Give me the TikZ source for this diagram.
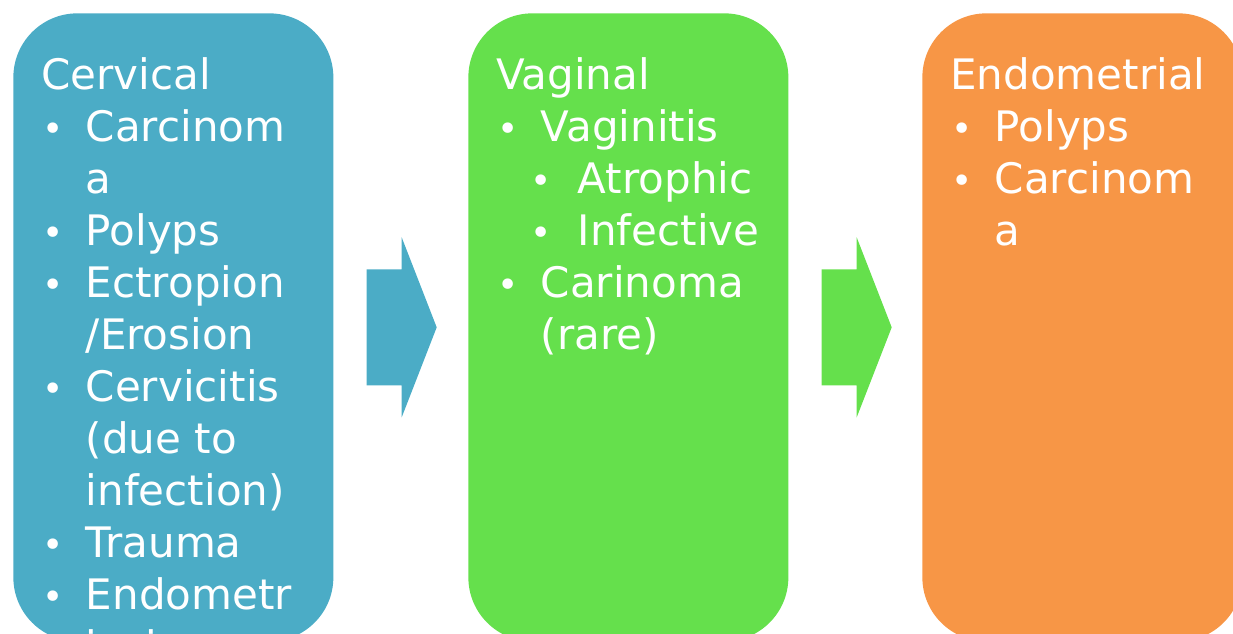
\documentclass[tikz,border=0pt]{standalone}
\usepackage{fontspec}
\setmainfont{DejaVu Sans}
\definecolor{cblue}{HTML}{4BACC6}
\definecolor{cgreen}{HTML}{65E04C}
\definecolor{corange}{HTML}{F79646}
\newlength{\pxu}
\setlength{\pxu}{0.02cm}
\tikzset{
  every picture/.style={x=0.02cm, y=-0.02cm},
  box/.style={fill=#1, rounded corners=64\pxu, minimum width=320\pxu, minimum height=628\pxu, inner sep=0pt, anchor=north west},
  box/.default=cblue,
  items/.style={text=white, align=left, inner sep=0pt, anchor=north west, font=\fontsize{42\pxu}{52\pxu}\selectfont},
}

\begin{document}
\begin{tikzpicture}
  \newcommand{\bdot}{\raisebox{0\pxu}{\fontsize{36\pxu}{36\pxu}\selectfont •}}
  \newcommand{\itm}{\makebox[44.5\pxu][l]{\hspace*{1\pxu}\bdot}}
  \newcommand{\cnt}{\makebox[44.5\pxu]{}}
  \newcommand{\sitm}{\cnt\makebox[37\pxu][l]{\hspace*{-10\pxu}\bdot}}
  \newcommand{\flow}[2]{\fill[#2] ([xshift=33\pxu]#1.east) ++(0,-58) -- ++(35,0) -- ++(0,-32) -- ++(35,90) -- ++(-35,90) -- ++(0,-32) -- ++(-35,0) -- cycle;}
  \useasboundingbox (0,0) rectangle (1233,634);
  \clip (0,0) rectangle (1233,634);

  % cervical
  \node[box=cblue] (cerv) at (13,13) {};
  \node[items] (cervtxt) at (41,57) {Cervical\\\itm Carcinom\\\cnt a\\\itm Polyps\\\itm Ectropion\\\cnt /Erosion\\\itm Cervicitis\\\cnt (due to\\\cnt infection)\\\itm Trauma\\\itm Endometr\\\cnt iosis};
  \flow{cerv}{cblue}

  % vaginal
  \node[box=cgreen] (vag) at (468,13) {};
  \node[items] (vagtxt) at (496,57) {Vaginal\\\itm Vaginitis\\\sitm Atrophic\\\sitm Infective\\\itm Carinoma\\\cnt (rare)};
  \flow{vag}{cgreen}

  % endometrial
  \node[box=corange] (endo) at (922,13) {};
  \node[items] (endotxt) at (950,57) {Endometrial\\\itm Polyps\\\itm Carcinom\\\cnt a};
\end{tikzpicture}
\end{document}
